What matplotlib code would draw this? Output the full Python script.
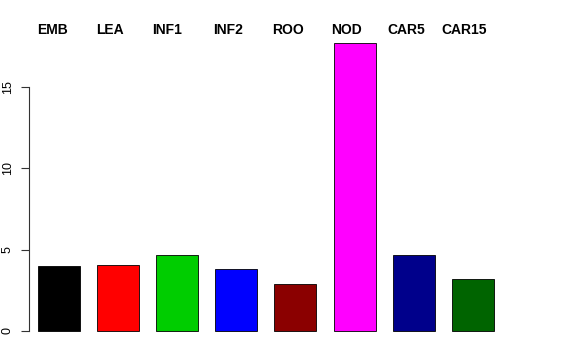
import matplotlib
matplotlib.use('Agg')
import matplotlib.pyplot as plt
import numpy as np

plt.rcParams['font.family'] = ['Liberation Sans', 'DejaVu Sans']

categories = ['EMB', 'LEA', 'INF1', 'INF2', 'ROO', 'NOD', 'CAR5', 'CAR15']
values = [4.0, 4.04, 4.67, 3.81, 2.89, 17.7, 4.67, 3.2]
colors = ['#000000', '#FF0000', '#00CD00', '#0000FF', '#8B0000', '#FF00FF', '#00008B', '#006400']
y_ticks = [0, 5, 10, 15]

# label left edges relative to bar centres (as placed in the original)
label_offsets = [-0.37, -0.37, -0.42, -0.39, -0.4, -0.39, -0.44, -0.53]

W, H = 576, 360
fig = plt.figure(figsize=(W / 100, H / 100), dpi=100)

# pixel geometry of the plotting region
px_left, px_right = 29, 545
px_top, px_bottom = 30, 340
ax = fig.add_axes([px_left / W, 1 - px_bottom / H, (px_right - px_left) / W, (px_bottom - px_top) / H])

x0_px, dx_px = 59, 59.1   # bar centre of first bar, spacing
y0_px, dy_px = 331, 16.27  # y=0 pixel, pixels per unit

x = np.arange(len(categories))
ax.bar(x, values, width=42 / dx_px, color=colors, edgecolor='black', linewidth=0.6)

ax.set_xlim((px_left - x0_px) / dx_px, (px_right - x0_px) / dx_px)
ax.set_ylim(-(px_bottom - y0_px) / dy_px, (y0_px - px_top) / dy_px)

for s in ['top', 'right', 'bottom']:
    ax.spines[s].set_visible(False)
ax.spines['left'].set_bounds(0, 15)
ax.spines['left'].set_linewidth(0.8)
ax.spines['left'].set_color('#333333')
ax.set_xticks([])
ax.set_yticks(y_ticks)
ax.set_yticklabels([str(t) for t in y_ticks], rotation=90, va='center', fontsize=9)
ax.tick_params(axis='y', length=6, width=0.8, color='#333333', pad=5)

label_y = (y0_px - 30) / dy_px
for xi, name, off in zip(x, categories, label_offsets):
    ax.text(xi + off, label_y, name, ha='left', va='center', fontsize=10,
            fontweight='bold', clip_on=False)

fig.savefig('out.png', dpi=100)
